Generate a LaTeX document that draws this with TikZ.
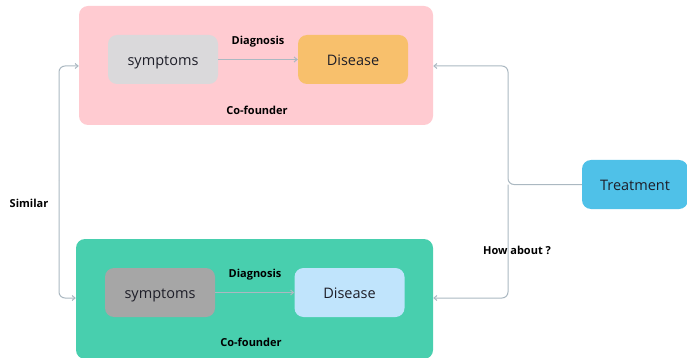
\documentclass[tikz,border=0pt]{standalone}
\usepackage{fontspec}
\setmainfont{Open Sans}
\usetikzlibrary{arrows.meta}
\definecolor{pinkbg}{HTML}{FFCBD1}
\definecolor{greenbg}{HTML}{48CFAE}
\definecolor{lgrey}{HTML}{DAD9DB}
\definecolor{dgrey}{HTML}{A6A6A6}
\definecolor{orng}{HTML}{F8C06C}
\definecolor{lblue}{HTML}{C0E4FC}
\definecolor{tblue}{HTML}{4FC1E8}
\definecolor{conn}{HTML}{ABB8C1}
\definecolor{txt}{HTML}{1E1E28}
\begin{document}
\begin{tikzpicture}[x=1pt,y=-1pt,
  panel/.style={rounded corners=9pt, inner sep=0pt, minimum width=#1},
  box/.style={rounded corners=9pt, minimum width=110pt, minimum height=49pt, inner sep=0pt, text height=12pt, text depth=0pt, font=\fontsize{14.5}{16}\selectfont, text=txt},
  lbl/.style={font=\bfseries\fontsize{11}{13}\selectfont, text=black},
  conline/.style={draw=conn, line width=1pt, rounded corners=6pt},
  tip/.style={-{Straight Barb[length=3pt,width=5pt]}}
]
\useasboundingbox (0,0) rectangle (687,358);
% panels
\node[panel=354pt, minimum height=119pt, fill=pinkbg] (p1) at (256,65.5) {};
\node[panel=357pt, minimum height=120pt, fill=greenbg] (p2) at (254.5,299) {};
% top row
\node[box, fill=lgrey] (s1) at (163,59.5) {symptoms};
\node[box, fill=orng] (d1) at (353,59.5) {Disease};
\draw[conn, line width=1pt, tip] (s1) -- (d1);
\node[lbl] (g1) at (258,42) {Diagnosis};
\node[lbl] (c1) at (257,110) {Co-founder};
% bottom row
\node[box, fill=dgrey] (s2) at (160,292.5) {symptoms};
\node[box, fill=lblue] (d2) at (349.5,292.5) {Disease};
\draw[conn, line width=1pt, tip] (s2) -- (d2);
\node[lbl] (g2) at (255,275) {Diagnosis};
\node[lbl] (c2) at (251,342) {Co-founder};
% treatment
\node[box, fill=tblue, minimum width=106pt] (t) at (635,184.5) {Treatment};
\coordinate (j) at (508,184.5);
\draw[conline, tip] (t.west) -- (j) |- (p1.east |- 0,66);
\draw[conline, tip] (j) |- (p2.east |- 0,298);
\node[lbl] (h) at (517,250) {How about ?};
% similar
\coordinate (lft) at (59,180);
\draw[conline, tip] (lft) |- (p1.west |- 0,66);
\draw[conline, tip] (lft) |- (p2.west |- 0,298);
\node[lbl] (sim) at (29,203) {Similar};
\end{tikzpicture}
\end{document}
